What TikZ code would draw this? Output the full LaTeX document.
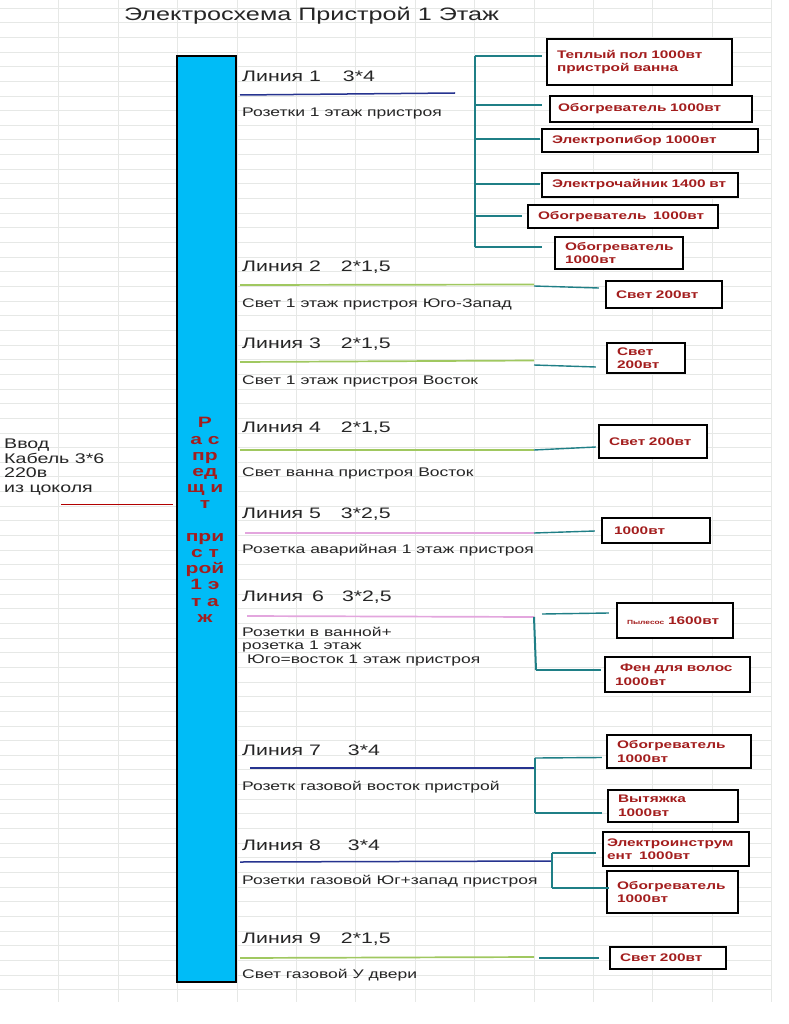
\documentclass[tikz,border=0pt]{standalone}
\usepackage{fontspec}
\setmainfont[FakeStretch=1.4]{Liberation Sans}
\definecolor{boxred}{HTML}{A31D1D}
\definecolor{teal2}{HTML}{1F7F86}
\definecolor{busblue}{HTML}{00BCF7}
\definecolor{lgreen}{HTML}{A0C860}
\definecolor{lpink}{HTML}{E3A6DE}
\definecolor{navyl}{HTML}{26338F}
\definecolor{gridc}{HTML}{E6E8E6}
\tikzset{
  x=1pt,y=-1pt,
  box/.style={draw=black,line width=2.3pt,fill=white,text=boxred,align=left,inner ysep=0pt,font=\bfseries\fontsize{11}{13.5}\selectfont},
  lab/.style={anchor=west,inner sep=0pt,align=left,text=black!85,font=\fontsize{12.5}{13.6}\selectfont},
  head/.style={anchor=west,inner sep=0pt,text=black!85,font=\fontsize{15.2}{17}\selectfont},
  tw/.style={teal2,line width=2pt},
  tn/.style={teal2,line width=1.4pt},
  gl/.style={gridc,line width=.7pt}
}
\begin{document}
\begin{tikzpicture}
\useasboundingbox (0,0) rectangle (788,1024);
\fill[white] (0,0) rectangle (788,1024);
% spreadsheet grid
\foreach \i in {0,...,67} \draw[gl] (0,8+14.65*\i) -- (771,8+14.65*\i);
\foreach \i in {1,...,13} \draw[gl] (59.4*\i-0.6,0) -- (59.4*\i-0.6,1002);
% title
\node[anchor=west,inner sep=0pt,text=black!85,font=\fontsize{18}{20}\selectfont] (title) at (124,15.5) {Электросхема Пристрой 1 Этаж};
% distribution board
\node[draw=black,line width=2.6pt,fill=busblue,minimum width=59pt,minimum height=926pt,inner sep=0pt] (bus) at (206.5,519) {};
\node[text=boxred,align=center,inner sep=0pt,font=\bfseries\fontsize{15}{16.2}\selectfont] (bustext) at (205,520) {Р\\а с\\пр\\ед\\щ и\\т\\[16.2pt]при\\с т\\рой\\1 э\\т а\\ж};
% input
\node[lab,font=\fontsize{14}{14.7}\selectfont] (vvod) at (4,467) {Ввод\\Кабель 3*6\\220в\\из цоколя};
\coordinate (in0) at (61,504.5);
\draw[color=red!70!black,line width=1.5pt] (in0) -- ([shift={(-3,-14.5)}]bus.west);
% line labels
\node[head] (h1) at (242,76) {Линия 1\hspace{22pt}3*4};
\node[lab] (t1) at (242,113) {Розетки 1 этаж пристроя};
\node[head] (h2) at (242,267) {Линия 2\hspace{20pt}2*1,5};
\node[lab] (t2) at (242,304) {Свет 1 этаж пристроя Юго-Запад};
\node[head] (h3) at (242,344) {Линия 3\hspace{20pt}2*1,5};
\node[lab] (t3) at (242,381) {Свет 1 этаж пристроя Восток};
\node[head] (h4) at (242,428) {Линия 4\hspace{20pt}2*1,5};
\node[lab] (t4) at (242,473) {Свет ванна пристроя Восток};
\node[head] (h5) at (242,514) {Линия 5\hspace{20pt}3*2,5};
\node[lab] (t5) at (242,550) {Розетка аварийная 1 этаж пристроя};
\node[head] (h6) at (242,597) {Линия\hspace{9pt}6\hspace{18pt}3*2,5};
\node[lab] (t6) at (242,646.5) {Розетки в ванной+\\розетка 1 этаж\\\hspace{5pt}Юго=восток 1 этаж пристроя};
\node[head] (h7) at (242,750) {Линия 7\hspace{27pt}3*4};
\node[lab] (t7) at (242,787) {Розетк\hspace{5pt}газовой\hspace{5pt}восток пристрой};
\node[head] (h8) at (242,845) {Линия 8\hspace{27pt}3*4};
\node[lab] (t8) at (242,881) {Розетки\hspace{5pt}газовой Юг+запад пристроя};
\node[head] (h9) at (242,939) {Линия 9\hspace{20pt}2*1,5};
\node[lab] (t9) at (242,975) {Свет газовой\hspace{5pt}У двери};
% load boxes
\node[box,minimum height=46pt,text width=165pt,inner xsep=10pt] (b1) at (639.5,62) {Теплый пол 1000вт\\пристрой ванна};
\node[box,minimum height=26pt,text width=186pt,inner xsep=8pt] (b2) at (651,109) {Обогреватель 1000вт};
\node[box,minimum height=23pt,text width=196pt,inner xsep=10pt] (b3) at (650,140.5) {Электропибор 1000вт};
\node[box,minimum height=24pt,text width=176pt,inner xsep=10pt] (b4) at (640,185) {Электрочайник 1400 вт};
\node[box,minimum height=23pt,text width=170pt,inner xsep=10pt] (b5) at (623,216.5) {Обогреватель\hspace{3pt} 1000вт};
\node[box,minimum height=32pt,text width=108pt,inner xsep=10pt] (b6) at (619,253) {Обогреватель\\1000вт};
\node[box,minimum height=27pt,text width=96pt,inner xsep=10pt] (b7) at (664,294.5) {Свет 200вт};
\node[box,minimum height=30pt,text width=58pt,inner xsep=10pt] (b8) at (646,358) {Свет\\200вт};
\node[box,minimum height=33pt,text width=88pt,inner xsep=10pt] (b9) at (653,441.5) {Свет 200вт};
\node[box,minimum height=25pt,text width=84pt,inner xsep=12pt] (b10) at (656,530.5) {1000вт};
\node[box,minimum height=35pt,text width=96pt,inner xsep=10pt] (b11) at (675,620.5) {{\fontsize{6}{7}\selectfont Пылесос} 1600вт};
\node[box,minimum height=35pt,text width=125pt,inner xsep=10pt] (b12) at (677.5,674.5) {\hspace{5pt}Фен для волос\\1000вт};
\node[box,minimum height=33pt,text width=124pt,inner xsep=10pt] (b13) at (679,751.5) {Обогреватель\\1000вт};
\node[box,minimum height=32pt,text width=110pt,inner xsep=10pt] (b14) at (673,806) {Вытяжка\\1000вт};
\node[box,minimum height=34pt,text width=138pt,inner xsep=4pt] (b15) at (676,849) {Электроинструм\\ент\hspace{3pt} 1000вт};
\node[box,minimum height=42pt,text width=111pt,inner xsep=10pt] (b16) at (672.5,892) {Обогреватель\\1000вт};
\node[box,minimum height=22pt,text width=96pt,inner xsep=10pt] (b17) at (668,958) {Свет 200вт};
% junctions and feeders
\coordinate (s1) at (240,95); \coordinate (e1) at (455,93);
\draw[navyl,line width=1.5pt] (s1) -- (e1);
\coordinate (j1a) at (475,56); \coordinate (j1b) at (475,105); \coordinate (j1c) at (475,139);
\coordinate (j1d) at (475,184); \coordinate (j1e) at (475,216); \coordinate (j1f) at (475,247);
\draw[tw] (j1a) -- (j1f);
\draw[tn] (j1a) -- ([shift={(-4,-6)}]b1.west);
\draw[tn] (j1b) -- ([shift={(-7,-4)}]b2.west);
\draw[tn] (j1c) -- ([shift={(-1,-1.5)}]b3.west);
\draw[tn] (j1d) -- ([shift={(-1,-1)}]b4.west);
\draw[tn] (j1e) -- ([shift={(-5,-0.5)}]b5.west);
\draw[tn] (j1f) -- ([shift={(-12,-6)}]b6.west);
\coordinate (s2) at (240,285); \coordinate (j2) at (534,284.5); \coordinate (j2b) at (534,286);
\draw[lgreen,line width=1.7pt] (s2) -- (j2);
\draw[tn] (j2b) -- ([shift={(-6,-6.5)}]b7.west);
\coordinate (s3) at (240,362); \coordinate (j3) at (534,360.5); \coordinate (j3b) at (534,365);
\draw[lgreen,line width=1.7pt] (s3) -- (j3);
\draw[tn] (j3b) -- ([shift={(-10,9)}]b8.west);
\coordinate (s4) at (240,450); \coordinate (j4) at (534,450);
\draw[lgreen,line width=1.7pt] (s4) -- (j4);
\draw[tn] (j4) -- ([shift={(-2,5.5)}]b9.west);
\coordinate (s5) at (245,533); \coordinate (j5) at (534,533);
\draw[lpink,line width=1.7pt] (s5) -- (j5);
\draw[tn] (j5) -- ([shift={(-6,0.5)}]b10.west);
\coordinate (s6) at (247,616); \coordinate (j6) at (534,617);
\draw[lpink,line width=1.7pt] (s6) -- (j6);
\coordinate (j6b) at (536,670); \coordinate (j6c) at (542,614);
\draw[tw] (j6) -- (j6b);
\draw[tn] (j6c) -- ([shift={(-7,-7.5)}]b11.west);
\draw[tn] (j6b) -- ([shift={(-3,-4.5)}]b12.west);
\coordinate (s7) at (250,768); \coordinate (j7) at (535,768);
\draw[navyl,line width=1.5pt] (s7) -- (j7);
\coordinate (j7a) at (535,758); \coordinate (j7b) at (535,813);
\draw[tw] (j7a) -- (j7b);
\draw[tn] (j7a) -- ([shift={(-4,6)}]b13.west);
\draw[tn] (j7b) -- ([shift={(-5,7)}]b14.west);
\coordinate (s8) at (240,862); \coordinate (j8) at (552,861);
\draw[navyl,line width=1.5pt] (s8) -- (j8);
\coordinate (j8a) at (552,853); \coordinate (j8b) at (552,888);
\draw[tw] (j8a) -- (j8b);
\draw[tn] (j8a) -- ([shift={(-6,4)}]b15.west);
\draw[tn] (j8b) -- ([shift={(3,-4)}]b16.west);
\coordinate (s9) at (240,958); \coordinate (j9) at (534,957); \coordinate (j9b) at (539,958);
\draw[lgreen,line width=1.7pt] (s9) -- (j9);
\draw[tn] (j9b) -- ([shift={(-10,0)}]b17.west);
\end{tikzpicture}
\end{document}
